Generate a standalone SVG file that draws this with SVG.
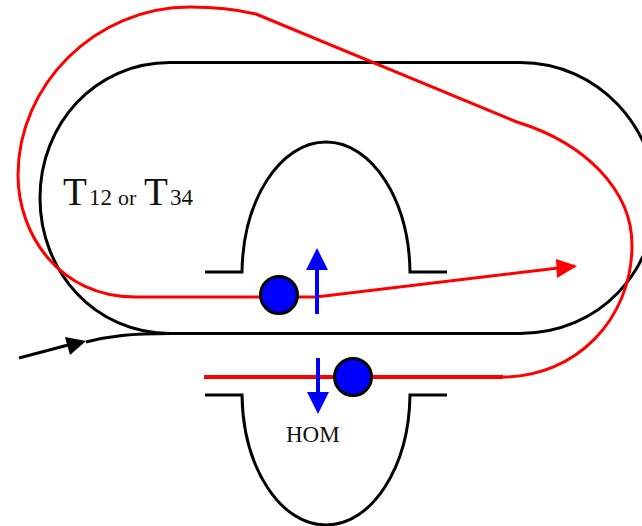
<svg xmlns="http://www.w3.org/2000/svg" width="642" height="526" viewBox="0 0 642 526">
<style>
.k{fill:none;stroke:#000;stroke-width:3}
.r{fill:none;stroke:#f00;stroke-width:3}
.b{fill:#00f;stroke:#000;stroke-width:3}
.a{fill:none;stroke:#00f;stroke-width:4}
text{font-family:"Liberation Serif","Times New Roman",serif;fill:#111}
</style>
<rect width="642" height="526" fill="#fff"/>
<g id="connectors">
<path id="ring" class="k" d="M170 62.500H520C600 62.500 656 130 656 198C656 270 600 333.500 520 333.500H170C95 333.500 40 272 40 198C40 124 95 62.500 170 62.500Z"/>
<path id="injection" class="k" d="M86 342C110 336 130 333.500 170 333.500"/>
<path id="injection-in" class="k" d="M19 358L72 344"/>
<polygon id="injection-head" points="86,341 70,355 65,337" fill="#000"/>
<path id="red-1" class="r" d="M575 266L316 297H135C60 297 18 235 18 175C18 85 95 7 190 7C215 7 235 9 256 14L517 122C585 143 632 190 632 245C632 320 575 377 503 377"/>
<path id="red-2" class="r" style="stroke-width:4" d="M503 377H204"/>
<polygon id="red-head" points="577,266 557,278 556,259" fill="#f00"/>
<path id="arrow-up" class="a" d="M317 314V268"/>
<polygon id="arrow-up-head" points="317,248 328,270 306,270" fill="#00f"/>
<path id="arrow-down" class="a" d="M318 358V394"/>
<polygon id="arrow-down-head" points="318,414 307,392 329,392" fill="#00f"/>
</g>
<g id="cavity-top"><path class="k" d="M205 272H242C243 200 280 142 326 142C372 142 409 200 410 272H447"/></g>
<g id="cavity-bottom"><path class="k" d="M205 395H242C243 467 280 525 326 525C372 525 409 467 410 395H447"/></g>
<g id="bunch-1"><circle class="b" cx="279" cy="295" r="18.500"/></g>
<g id="bunch-2"><circle class="b" cx="353" cy="377" r="18.500"/></g>
<g id="label-t"><text y="205" font-size="39"><tspan x="63">T</tspan><tspan x="89" font-size="23">12</tspan><tspan x="118" font-size="22">or</tspan><tspan x="144">T</tspan><tspan x="170" font-size="23">34</tspan></text></g>
<g id="label-hom"><text x="286" y="442" font-size="23">HOM</text></g>
</svg>
